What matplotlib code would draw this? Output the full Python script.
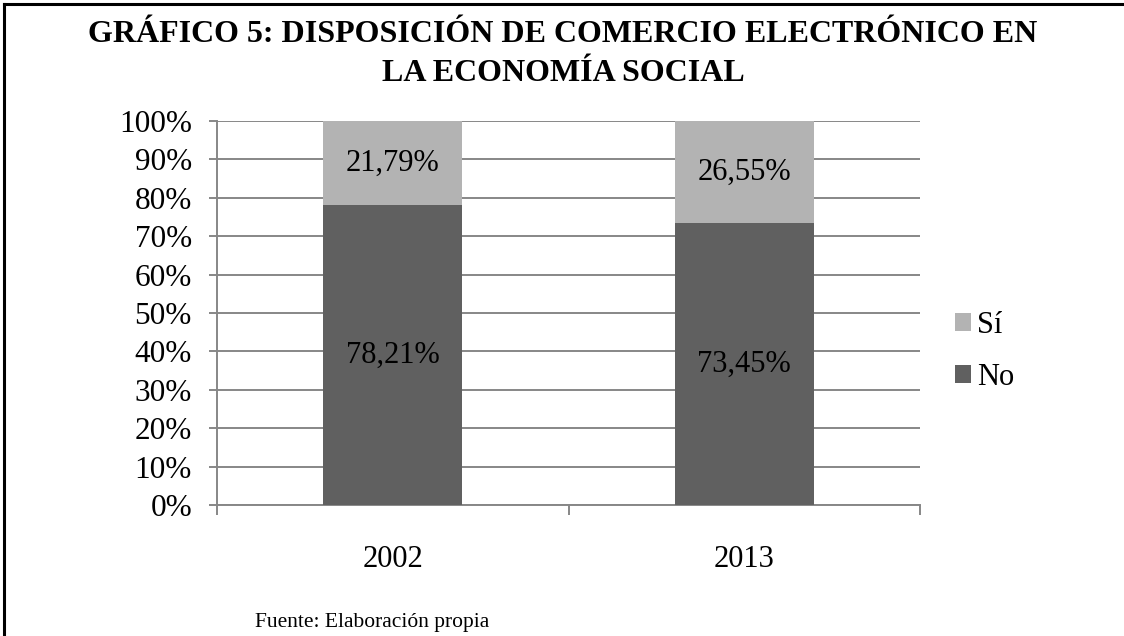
import numpy as np
import matplotlib
matplotlib.use("Agg")
import matplotlib.pyplot as plt
from matplotlib.lines import Line2D
from matplotlib.ticker import FixedLocator

plt.rcParams['font.family'] = ['Liberation Serif', 'DejaVu Serif']

# Datos
years = ['2002', '2013']
no_vals = [78.21, 73.45]
si_vals = [21.79, 26.55]
no_labels = ['78,21%', '73,45%']
si_labels = ['21,79%', '26,55%']

c_si = '#b3b3b3'
c_no = '#606060'
c_grid = '#878787'

fig = plt.figure(figsize=(11.24, 6.36), dpi=100)
ax = fig.add_axes([217 / 1124, 1 - 505 / 636, (920 - 217) / 1124, (505 - 121) / 636])

x = np.arange(len(years))
w = 0.395
b_no = ax.bar(x, no_vals, w, color=c_no, label='No', zorder=3)
b_si = ax.bar(x, si_vals, w, bottom=no_vals, color=c_si, label='Sí', zorder=3)

for i in range(len(years)):
    ax.text(x[i], no_vals[i] / 2, no_labels[i], ha='center', va='center', fontsize=22, zorder=4)
    ax.text(x[i], no_vals[i] + si_vals[i] / 2, si_labels[i], ha='center', va='center', fontsize=22, zorder=4)

ax.set_xlim(-0.5, 1.5)
ax.set_ylim(0, 100)
ax.set_yticks(np.arange(0, 101, 10))
ax.set_yticklabels([f'{v}%' for v in range(0, 101, 10)], fontsize=22.5)
ax.grid(axis='y', color=c_grid, linewidth=1.4, zorder=0)

# ticks de categoría en los bordes
ax.set_xticks(x)
ax.set_xticklabels(years, fontsize=22)
ax.tick_params(axis='x', length=0, pad=29)
ax.xaxis.set_minor_locator(FixedLocator([-0.5, 0.5, 1.5]))
ax.tick_params(axis='x', which='minor', length=7, width=1.4, color=c_grid, direction='out')
ax.tick_params(axis='y', length=6, width=1.4, color=c_grid, pad=12)

for s in ['top', 'right']:
    ax.spines[s].set_visible(False)
for s in ['left', 'bottom']:
    ax.spines[s].set_color(c_grid)
    ax.spines[s].set_linewidth(1.4)

handles = [b_si, b_no]
ax.legend(handles, ['Sí', 'No'], loc='center left', bbox_to_anchor=(1.01, 0.40),
          frameon=False, fontsize=22, handlelength=0.55, handleheight=0.55,
          handletextpad=0.2, labelspacing=0.75)

fig.text(0.501, 1 - 54 / 636, 'GRÁFICO 5: DISPOSICIÓN DE COMERCIO ELECTRÓNICO EN\nLA ECONOMÍA SOCIAL',
         ha='center', va='center', fontsize=23, fontweight='bold', linespacing=1.45)

fig.text(255 / 1124, 1 - 622 / 636, 'Fuente: Elaboración propia', ha='left', va='center', fontsize=15.5)

# marco recortado
fig.add_artist(Line2D([4 / 1124, 1], [1 - 4 / 636, 1 - 4 / 636], color='black', linewidth=2.2))
fig.add_artist(Line2D([4 / 1124, 4 / 1124], [0, 1 - 4 / 636], color='black', linewidth=2.2))

fig.savefig('out.png', dpi=100)
